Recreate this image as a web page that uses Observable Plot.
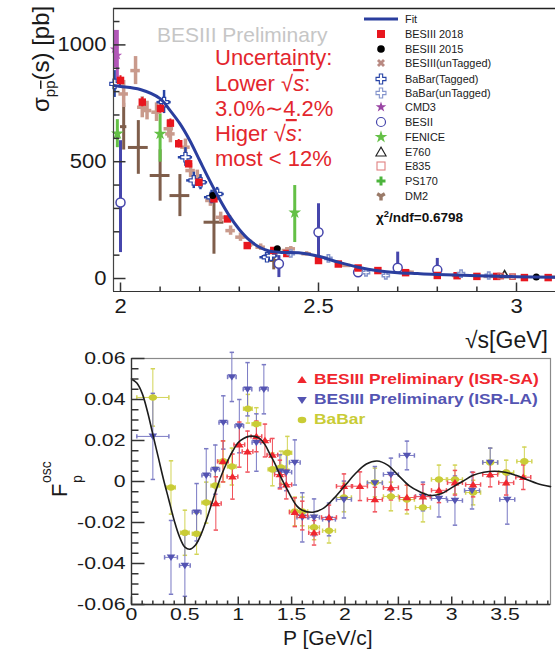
<!DOCTYPE html>
<html><head><meta charset="utf-8">
<script src="https://cdn.jsdelivr.net/npm/d3@7"></script>
<script src="https://cdn.jsdelivr.net/npm/@observablehq/plot@0.6"></script>
<style>
html,body{margin:0;padding:0;background:#fff;}
#wrap{position:relative;width:555px;height:649px;overflow:hidden;font-family:"Liberation Sans",Arial,Helvetica,sans-serif;background:#fff;}
#top{position:absolute;left:0;top:0;}
#bot{position:absolute;left:0;top:340px;}
</style></head>
<body><div id="wrap"><div id="top"></div><div id="bot"></div></div>
<script>
// ================= TOP PANEL DATA: sqrt(s) [GeV], sigma [pb] =================
const topFit = [[1.982,826],[2.0,822],[2.05,809],[2.1,770],[2.125,720],[2.15,663],[2.175,591],[2.2,505],[2.225,420],[2.25,340],[2.275,268],[2.3,210],[2.325,165],[2.35,135],[2.375,118],[2.4,112],[2.45,110],[2.5,95],[2.55,70],[2.6,48],[2.65,33],[2.7,25],[2.75,21],[2.8,17],[2.9,12],[3.0,8],[3.1,5]];
// [s, value, err]
const bes2018 = [[2.0,848,20],[2.055,755,20],[2.101,728,20],[2.126,665,18],[2.147,577,18],[2.172,491,16],[2.198,412,15],[2.236,341,14],[2.27,255,12],[2.32,141,8],[2.387,120,7],[2.42,107,6],[2.5,77,5],[2.55,62,5],[2.6,45,4],[2.65,34,3],[2.72,25,3],[2.8,13,2],[2.85,12,2],[2.9,9,2],[2.95,9,2],[3.02,4,2],[3.08,4,2]];
const bes2015 = [[2.233,355],[2.396,127],[3.05,6]];
// [s, value, err]
const besUntag = [[2.008,790,58],[2.038,890,60],[2.055,733,45],[2.067,719,40],[2.091,712,40],[2.122,641,40],[2.126,619,38],[2.164,562,35],[2.177,462,30],[2.194,434,30],[2.227,334,25],[2.253,262,22],[2.278,205,20],[2.303,177,18],[2.328,148,16],[2.354,134,14],[2.42,120,12],[2.43,127,10],[2.47,106,9],[2.57,56,7],[2.73,27,5],[2.85,13,4],[2.93,9,3],[3.09,6,3]];
// [s, value, err, half-width]
const dm2 = [[2.008,650,100,0.008],[2.045,561,115,0.025],[2.10,441,110,0.025],[2.15,355,90,0.025],[2.236,241,137,0.025],[2.387,77,40,0.01]];
// [s, value, low, high]
const besii = [[2.0,325,111,590],[2.40,63,4,98],[2.50,198,77,320],[2.60,27,15,40],[2.70,46,20,113],[2.80,37,20,86]];
const babarT = [[1.985,833,775,890],[2.11,755,706,805],[2.164,519,480,560],[2.185,420,385,455],[2.202,412,380,445],[2.23,348,320,378],[2.244,362,335,390],[2.37,91,70,112],[2.38,98,80,116]];
const babarU = [[2.43,107],[2.525,86],[2.62,26],[2.67,13],[2.86,21],[2.93,13]];
const cmd3 = [[1.985,982,80],[1.992,955,107]];
const fenice = [[1.992,620,560,680],[2.10,619,498,705],[2.44,282,154,398]];
const e760 = [[2.97,14]];
const e835 = [[2.96,10],[2.99,8]];
const topXMajor = [2, 2.5, 3];
const topXMinor = [2.1,2.2,2.3,2.4,2.6,2.7,2.8,2.9];
const topYMajor = [0, 500, 1000];
const topYMinor = [100,200,300,400,600,700,800,900,1100];
const topLegendLabels = ["Fit","BESIII 2018","BESIII 2015","BESIII(unTagged)","BaBar(Tagged)","BaBar(unTagged)","CMD3","BESII","FENICE","E760","E835","PS170","DM2"];
const topNotes = ["Uncertainty:","Lower ","3.0%\u223C4.2%","Higer ","most < 12%"];

// ================= BOTTOM PANEL DATA: P [GeV/c], F_p^osc =================
const botFit = [[0,0.050],[0.05,0.048],[0.1,0.043],[0.15,0.034],[0.2,0.023],[0.25,0.012],[0.3,0.001],[0.35,-0.009],[0.4,-0.019],[0.45,-0.027],[0.5,-0.032],[0.55,-0.033],[0.6,-0.031],[0.65,-0.026],[0.7,-0.019],[0.75,-0.011],[0.8,-0.003],[0.85,0.004],[0.9,0.010],[0.95,0.015],[1.0,0.019],[1.05,0.021],[1.1,0.022],[1.15,0.022],[1.2,0.021],[1.25,0.018],[1.3,0.013],[1.35,0.008],[1.4,0.002],[1.45,-0.003],[1.5,-0.008],[1.55,-0.012],[1.6,-0.014],[1.7,-0.015],[1.8,-0.013],[1.9,-0.008],[2.0,-0.002],[2.1,0.004],[2.2,0.0085],[2.3,0.010],[2.4,0.008],[2.5,0.003],[2.6,-0.002],[2.7,-0.005],[2.8,-0.0068],[2.9,-0.006],[3.0,-0.003],[3.1,0.000],[3.2,0.003],[3.3,0.0045],[3.4,0.005],[3.5,0.0045],[3.6,0.003],[3.7,0.001],[3.8,-0.001],[3.925,-0.0025]];
// [P, F, errF, errP]
const isrSA = [[0.79,-0.0107,0.013,0.05],[0.856,0.0098,0.010,0.05],[0.946,0.0024,0.011,0.05],[1.01,0.018,0.011,0.05],[1.087,0.0146,0.010,0.05],[1.17,0.022,0.0075,0.05],[1.25,0.020,0.008,0.05],[1.32,0.013,0.008,0.05],[1.39,0.0034,0.007,0.05],[1.45,-0.0015,0.007,0.05],[1.53,-0.015,0.007,0.05],[1.60,-0.0166,0.007,0.05],[1.71,-0.025,0.006,0.05],[1.85,-0.0175,0.006,0.07],[1.99,-0.0023,0.006,0.07],[2.14,-0.0023,0.007,0.07],[2.28,-0.0088,0.006,0.07],[2.43,-0.003,0.006,0.07],[2.58,-0.0078,0.006,0.07],[2.73,-0.0074,0.006,0.07],[2.88,-0.0043,0.006,0.07],[3.03,-0.0006,0.006,0.07],[3.20,-0.0015,0.006,0.07],[3.36,0.0034,0.006,0.07],[3.51,-0.0006,0.006,0.07],[3.67,0.0021,0.006,0.07]];
const isrLA = [[0.20,0.022,0.021,0.15],[0.37,-0.037,0.018,0.06],[0.50,-0.041,0.015,0.05],[0.61,-0.015,0.014,0.04],[0.70,0.003,0.013,0.04],[0.785,0.0058,0.012,0.04],[0.86,0.0288,0.013,0.04],[0.94,0.051,0.012,0.04],[1.01,0.027,0.013,0.04],[1.087,0.045,0.013,0.04],[1.17,0.019,0.014,0.04],[1.24,0.045,0.012,0.04],[1.39,0.005,0.008,0.05],[1.45,0.0045,0.009,0.05],[1.53,0.0093,0.011,0.05],[1.60,-0.0175,0.012,0.05],[1.71,-0.0175,0.009,0.05],[1.85,-0.0185,0.008,0.06],[1.99,-0.0088,0.009,0.07],[2.28,-0.0007,0.008,0.07],[2.43,0.0034,0.008,0.07],[2.58,0.0127,0.007,0.07],[2.73,-0.0073,0.007,0.07],[2.88,-0.0083,0.009,0.07],[3.03,-0.0093,0.012,0.07],[3.19,-0.0044,0.009,0.07],[3.36,0.0093,0.007,0.07],[3.52,-0.0088,0.012,0.07]];
const babar = [[0.20,0.041,0.014,0.15],[0.37,-0.0029,0.013,0.04],[0.50,-0.025,0.011,0.04],[0.61,-0.0255,0.010,0.04],[0.70,-0.0103,0.010,0.04],[0.785,-0.002,0.009,0.04],[0.86,0.0098,0.010,0.04],[0.94,0.0073,0.009,0.04],[1.09,0.0355,0.007,0.04],[1.17,0.028,0.008,0.04],[1.32,0.0059,0.008,0.04],[1.40,0.0068,0.008,0.04],[1.46,0.014,0.008,0.04],[1.53,-0.0146,0.007,0.05],[1.60,-0.0146,0.007,0.05],[1.71,-0.0224,0.006,0.05],[1.85,-0.024,0.006,0.06],[1.99,-0.0078,0.007,0.07],[2.28,-0.0005,0.007,0.07],[2.43,-0.0073,0.007,0.07],[2.58,-0.0088,0.007,0.07],[2.73,-0.0127,0.007,0.07],[2.88,0.001,0.007,0.07],[3.03,0.001,0.007,0.07],[3.20,-0.0054,0.006,0.07],[3.36,0.0093,0.007,0.07],[3.51,0.0044,0.006,0.07],[3.68,0.0098,0.007,0.07]];
const botXMajor = [0,0.5,1,1.5,2,2.5,3,3.5];
const botXMinor = [0.1,0.2,0.3,0.4,0.6,0.7,0.8,0.9,1.1,1.2,1.3,1.4,1.6,1.7,1.8,1.9,2.1,2.2,2.3,2.4,2.6,2.7,2.8,2.9,3.1,3.2,3.3,3.4,3.6,3.7,3.8,3.9];
const botYMajor = [-0.06,-0.04,-0.02,0,0.02,0.04,0.06];
const botYMinor = [-0.055,-0.05,-0.045,-0.035,-0.03,-0.025,-0.015,-0.01,-0.005,0.005,0.01,0.015,0.025,0.03,0.035,0.045,0.05,0.055];
const botLegendLabels = ["BESIII Preliminary (ISR-SA)","BESIII Preliminary (ISR-LA)","BaBar"];

// ================= helpers =================
const FONT = '"Liberation Sans", Arial, Helvetica, sans-serif';
const R = v => Math.sqrt(v / Math.PI);
const tickRight = {draw(c, s){ const l = R(s); c.moveTo(0,0); c.lineTo(l,0); }};
const tickUp = {draw(c, s){ const l = R(s); c.moveTo(0,0); c.lineTo(0,-l); }};
const capH = {draw(c, s){ const l = R(s); c.moveTo(-l,0); c.lineTo(l,0); }};
const capV = {draw(c, s){ const l = R(s); c.moveTo(0,-l); c.lineTo(0,l); }};
const triUp = {draw(c, s){ const r = R(s); c.moveTo(0,-1.1*r); c.lineTo(1.3*r,0.85*r); c.lineTo(-1.3*r,0.85*r); c.closePath(); }};
const triDown = {draw(c, s){ const r = R(s); c.moveTo(0,1.1*r); c.lineTo(1.3*r,-0.85*r); c.lineTo(-1.3*r,-0.85*r); c.closePath(); }};
const ellipse = {draw(c, s){ const r = R(s), rx = 1.3*r, ry = r, k = 0.5523;
  c.moveTo(rx,0); c.bezierCurveTo(rx,k*ry,k*rx,ry,0,ry); c.bezierCurveTo(-k*rx,ry,-rx,k*ry,-rx,0);
  c.bezierCurveTo(-rx,-k*ry,-k*rx,-ry,0,-ry); c.bezierCurveTo(k*rx,-ry,rx,-k*ry,rx,0); c.closePath(); }};
function stretch(root, f) {
  root.querySelectorAll("text").forEach(t => {
    const L = t.getComputedTextLength();
    if (L > 0) { t.setAttribute("textLength", (L * f).toFixed(2)); t.setAttribute("lengthAdjust", "spacingAndGlyphs"); }
  });
}
const X0 = d => d[0], Y1 = d => d[1];

// ================= TOP PLOT =================
const TX = [1.9823, 3.0985], TY = [-55.6, 1155.8];
const C = {red:"#e8161e", unt:"#c99a8c", dm2:"#7f5e4b", besii:"#4646ac", babarT:"#2844a6", babarU:"#8494cc", cmd3:"#b257b8", fenice:"#64c046", ps170:"#4cb43c", fit:"#2a3e9e"};
const topPlot = Plot.plot({
  width: 555, height: 340,
  marginLeft: 113, marginRight: 0, marginTop: 8, marginBottom: 49,
  x: {domain: TX}, y: {domain: TY},
  style: {fontFamily: FONT, fontSize: "20px", color: "#1a1a1a", background: "transparent", overflow: "visible"},
  marks: [
    Plot.ruleX(dm2, {x: X0, y1: d => d[1]-d[2], y2: d => d[1]+d[2], stroke: C.dm2, strokeWidth: 3, clip: true}),
    Plot.ruleY(dm2, {y: Y1, x1: d => d[0]-d[3], x2: d => d[0]+d[3], stroke: C.dm2, strokeWidth: 3, clip: true}),
    Plot.ruleX(besii, {x: X0, y1: d => d[2], y2: d => d[3], stroke: C.besii, strokeWidth: 3, clip: true}),
    Plot.ruleX(fenice, {x: X0, y1: d => d[2], y2: d => d[3], stroke: C.fenice, strokeWidth: 3, clip: true}),
    Plot.ruleX(cmd3, {x: X0, y1: d => d[1]-d[2], y2: d => d[1]+d[2], stroke: C.cmd3, strokeWidth: 3, clip: true}),
    Plot.ruleX(besUntag, {x: X0, y1: d => d[1]-d[2], y2: d => d[1]+d[2], stroke: C.unt, strokeWidth: 3.5, clip: true}),
    Plot.ruleY(besUntag, {y: Y1, x1: d => d[0]-0.012, x2: d => d[0]+0.012, stroke: C.unt, strokeWidth: 3.5, clip: true}),
    Plot.ruleX(babarT, {x: X0, y1: d => d[2], y2: d => d[3], stroke: C.babarT, strokeWidth: 2.5, clip: true}),
    Plot.ruleY(babarT, {y: Y1, x1: d => d[0]-0.018, x2: d => d[0]+0.018, stroke: C.babarT, strokeWidth: 2.5, clip: true}),
    Plot.ruleX(bes2018, {x: X0, y1: d => d[1]-d[2], y2: d => d[1]+d[2], stroke: C.red, strokeWidth: 2, clip: true}),
    Plot.dot(besii, {x: X0, y: Y1, r: 4.5, fill: "white", stroke: C.besii, strokeWidth: 1.5}),
    Plot.dot(fenice, {x: X0, y: Y1, symbol: "star", r: 4, fill: C.fenice}),
    Plot.dot(cmd3, {x: X0, y: Y1, symbol: "star", r: 3, fill: C.cmd3}),
    Plot.dot(babarT, {x: X0, y: Y1, symbol: "cross", r: 4, fill: "white", stroke: C.babarT, strokeWidth: 1.2}),
    Plot.dot(bes2018, {x: X0, y: Y1, symbol: "square", r: 4.2, fill: C.red}),
    Plot.dot(bes2015, {x: X0, y: Y1, r: 3.5, fill: "#000"}),
    Plot.dot(babarU, {x: X0, y: Y1, symbol: "cross", r: 3, fill: "white", stroke: C.babarU}),
    Plot.dot(e760, {x: X0, y: Y1, symbol: "triangle", r: 3, fill: "none", stroke: "#222"}),
    Plot.dot(e835, {x: X0, y: Y1, symbol: "square", r: 3, fill: "none", stroke: "#d06060"}),
    Plot.line(topFit, {x: X0, y: Y1, stroke: C.fit, strokeWidth: 3, curve: "catmull-rom", clip: true}),
    // frame lines
    Plot.ruleY([TY[1]], {stroke: "#222", strokeWidth: 1.6}),
    Plot.ruleX([TX[0]], {stroke: "#444", strokeWidth: 1.2}),
    Plot.ruleY([TY[0]], {stroke: "#333", strokeWidth: 1.2}),
    // ticks (inward)
    Plot.dot(topYMajor, {x: () => TX[0], y: d => d, symbol: tickRight, r: 12, stroke: "#333", fill: "none"}),
    Plot.dot(topYMinor, {x: () => TX[0], y: d => d, symbol: tickRight, r: 6, stroke: "#333", fill: "none"}),
    Plot.dot(topXMajor, {x: d => d, y: () => TY[0], symbol: tickUp, r: 9, stroke: "#333", fill: "none"}),
    Plot.dot(topXMinor, {x: d => d, y: () => TY[0], symbol: tickUp, r: 5, stroke: "#333", fill: "none"}),
    Plot.axisY(topYMajor, {tickSize: 0, tickPadding: 7, fontSize: 20, label: null, tickFormat: d => String(d)}),
    Plot.axisX(topXMajor, {tickSize: 0, tickPadding: 7, fontSize: 20, label: null, tickFormat: d => String(d)})
  ]
});
document.getElementById("top").append(topPlot);
stretch(topPlot, 1.1);

// ================= BOTTOM PLOT =================
const BX = [0, 3.925], BY = [-0.06, 0.06];
const B = {red:"#f0262e", redBar:"#f0505a", blue:"#5454b2", blueBar:"#7a7ac4", yel:"#c9cc36", yelBar:"#d2d456", fit:"#1c1c1c"};
function errMarks(data, bar) {
  return [
    Plot.ruleX(data, {x: X0, y1: d => d[1]-d[2], y2: d => d[1]+d[2], stroke: bar, strokeWidth: 1}),
    Plot.ruleY(data, {y: Y1, x1: d => d[0]-d[3], x2: d => d[0]+d[3], stroke: bar, strokeWidth: 1}),
    Plot.dot(data, {x: X0, y: d => d[1]-d[2], symbol: capH, r: 2.2, stroke: bar, fill: "none"}),
    Plot.dot(data, {x: X0, y: d => d[1]+d[2], symbol: capH, r: 2.2, stroke: bar, fill: "none"}),
    Plot.dot(data, {x: d => d[0]-d[3], y: Y1, symbol: capV, r: 2.2, stroke: bar, fill: "none"}),
    Plot.dot(data, {x: d => d[0]+d[3], y: Y1, symbol: capV, r: 2.2, stroke: bar, fill: "none"})
  ];
}
const botPlot = Plot.plot({
  width: 555, height: 309,
  marginLeft: 131, marginRight: 5, marginTop: 18, marginBottom: 45,
  x: {domain: BX}, y: {domain: BY},
  style: {fontFamily: FONT, fontSize: "17px", color: "#1a1a1a", background: "transparent", overflow: "visible"},
  marks: [
    Plot.frame({stroke: "#8a8a8a", strokeWidth: 1.2}),
    ...errMarks(babar, B.yelBar),
    ...errMarks(isrLA, B.blueBar),
    ...errMarks(isrSA, B.redBar),
    Plot.dot(babar, {x: X0, y: Y1, symbol: ellipse, r: 3.3, fill: B.yel}),
    Plot.dot(isrLA, {x: X0, y: Y1, symbol: triDown, r: 3.3, fill: B.blue}),
    Plot.dot(isrSA, {x: X0, y: Y1, symbol: triUp, r: 3.3, fill: B.red}),
    Plot.line(botFit, {x: X0, y: Y1, stroke: B.fit, strokeWidth: 1.6, curve: "catmull-rom"}),
    Plot.ruleX([BX[0]], {stroke: "#333", strokeWidth: 1.3}),
    Plot.ruleY([BY[0]], {stroke: "#333", strokeWidth: 1.3}),
    Plot.dot(botYMajor, {x: () => BX[0], y: d => d, symbol: tickRight, r: 13, stroke: "#333", fill: "none"}),
    Plot.dot(botYMinor, {x: () => BX[0], y: d => d, symbol: tickRight, r: 7, stroke: "#333", fill: "none"}),
    Plot.dot(botXMajor, {x: d => d, y: () => BY[0], symbol: tickUp, r: 8, stroke: "#333", fill: "none"}),
    Plot.dot(botXMinor, {x: d => d, y: () => BY[0], symbol: tickUp, r: 4, stroke: "#333", fill: "none"}),
    Plot.axisY(botYMajor, {tickSize: 0, tickPadding: 6, fontSize: 17, label: null, tickFormat: d => d === 0 ? "0" : d.toFixed(2)}),
    Plot.axisX(botXMajor, {tickSize: 0, tickPadding: 3, fontSize: 17, label: null, tickFormat: d => String(d)})
  ]
});
document.getElementById("bot").append(botPlot);
stretch(botPlot, 1.25);

// ================= OVERLAY: legends, annotations, axis titles =================
const ov = d3.select("#wrap").append("svg")
  .attr("width", 555).attr("height", 649)
  .style("position", "absolute").style("left", "0").style("top", "0")
  .attr("font-family", FONT);
const sym = (type, size) => d3.symbol(type, size)();

// top: watermark and uncertainty notes
ov.append("text").attr("x", 157).attr("y", 42).attr("font-size", 21).attr("fill", "#c6c6c6").text("BESIII Preliminary");
const noteY = [65, 91, 116, 141, 166];
topNotes.forEach((s, i) => {
  const t = ov.append("text").attr("x", 215).attr("y", noteY[i]).attr("font-size", 22).attr("fill", "#e3262d");
  t.append("tspan").text(s);
  if (i === 1 || i === 3) {
    t.append("tspan").text("\u221A");
    t.append("tspan").attr("font-style", "italic").style("text-decoration", "overline").text("s");
    t.append("tspan").text(":");
  }
});

// top legend
const legY = [19, 34, 49, 63, 79, 93, 107, 122, 137, 152, 166, 181, 196];
const LX = 381;
const lg = ov.append("g");
lg.append("line").attr("x1", 364).attr("x2", 398).attr("y1", legY[0]).attr("y2", legY[0]).attr("stroke", C.fit).attr("stroke-width", 3);
lg.append("rect").attr("x", LX-4).attr("y", legY[1]-4).attr("width", 8).attr("height", 8).attr("fill", C.red);
lg.append("circle").attr("cx", LX).attr("cy", legY[2]).attr("r", 3.8).attr("fill", "#000");
lg.append("path").attr("d", sym(d3.symbolCross, 40)).attr("transform", `translate(${LX},${legY[3]}) rotate(45)`).attr("fill", "#b98a82");
lg.append("path").attr("d", sym(d3.symbolCross, 55)).attr("transform", `translate(${LX},${legY[4]})`).attr("fill", "white").attr("stroke", C.babarT).attr("stroke-width", 1.1);
lg.append("path").attr("d", sym(d3.symbolCross, 55)).attr("transform", `translate(${LX},${legY[5]})`).attr("fill", "white").attr("stroke", C.babarU).attr("stroke-width", 1.1);
lg.append("path").attr("d", sym(d3.symbolStar, 35)).attr("transform", `translate(${LX},${legY[6]})`).attr("fill", "#9a46a4");
lg.append("circle").attr("cx", LX).attr("cy", legY[7]).attr("r", 4.5).attr("fill", "none").attr("stroke", C.besii).attr("stroke-width", 1.2);
lg.append("path").attr("d", sym(d3.symbolStar, 50)).attr("transform", `translate(${LX},${legY[8]})`).attr("fill", C.fenice);
lg.append("path").attr("d", sym(d3.symbolTriangle, 45)).attr("transform", `translate(${LX},${legY[9]+1})`).attr("fill", "none").attr("stroke", "#222").attr("stroke-width", 1.1);
lg.append("rect").attr("x", LX-4).attr("y", legY[10]-4).attr("width", 8).attr("height", 8).attr("fill", "none").attr("stroke", "#e08080").attr("stroke-width", 1.1);
lg.append("path").attr("d", sym(d3.symbolCross, 45)).attr("transform", `translate(${LX},${legY[11]})`).attr("fill", C.ps170);
lg.append("path").attr("d", sym(d3.symbolWye, 40)).attr("transform", `translate(${LX},${legY[12]})`).attr("fill", "#9a7a68");
topLegendLabels.forEach((s, i) => {
  lg.append("text").attr("x", 405).attr("y", legY[i] + 4).attr("font-size", 10.5).attr("fill", "#1a1a1a").text(s);
});
const chi = lg.append("text").attr("x", 376).attr("y", 222).attr("font-size", 13).attr("font-weight", "bold").attr("fill", "#111");
chi.append("tspan").text("\u03C7");
chi.append("tspan").attr("font-size", 9).attr("dy", -5).text("2");
chi.append("tspan").attr("dy", 5).text("/ndf=0.6798");
stretch(lg.node(), 1.04);

// top axis titles
const yl = ov.append("text").attr("transform", "translate(49,112) rotate(-90)").attr("font-size", 24).attr("fill", "#1a1a1a");
yl.append("tspan").text("\u03C3");
yl.append("tspan").attr("font-size", 15).attr("dy", 6).text("p");
yl.append("tspan").attr("font-size", 15).style("text-decoration", "overline").text("p");
yl.append("tspan").attr("dy", -6).text("(s) [pb]");
const xl = ov.append("text").attr("x", 465).attr("y", 348).attr("font-size", 23).attr("fill", "#1a1a1a");
xl.append("tspan").text("\u221As[GeV]");
stretch(xl.node(), 1.2);

// bottom legend
const bl = ov.append("g");
const bY = [380, 400, 420];
const bCol = [B.red, B.blue, B.yel];
bl.append("path").attr("d", "M0,-4L4.8,3L-4.8,3Z").attr("transform", `translate(302,${bY[0]})`).attr("fill", B.red);
bl.append("path").attr("d", "M0,4L4.8,-3L-4.8,-3Z").attr("transform", `translate(302,${bY[1]})`).attr("fill", B.blue);
bl.append("ellipse").attr("cx", 302).attr("cy", bY[2]).attr("rx", 4.3).attr("ry", 3.3).attr("fill", B.yel);
botLegendLabels.forEach((s, i) => {
  bl.append("text").attr("x", 314).attr("y", bY[i] + 4).attr("font-size", 14).attr("font-weight", "bold").attr("fill", bCol[i]).text(s);
});
stretch(bl.node(), 1.24);

// bottom axis titles
const px = ov.append("text").attr("x", 283).attr("y", 645).attr("font-size", 21).attr("fill", "#1a1a1a").text("P [GeV/c]");
stretch(px.node(), 1.25);
ov.append("text").attr("transform", "translate(67,497) rotate(-90)").attr("font-size", 22).attr("fill", "#1a1a1a").text("F");
ov.append("text").attr("transform", "translate(51,483) rotate(-90)").attr("font-size", 14).attr("fill", "#1a1a1a").text("osc");
ov.append("text").attr("transform", "translate(82,483) rotate(-90)").attr("font-size", 14).attr("fill", "#1a1a1a").text("p");
</script>
</body></html>
